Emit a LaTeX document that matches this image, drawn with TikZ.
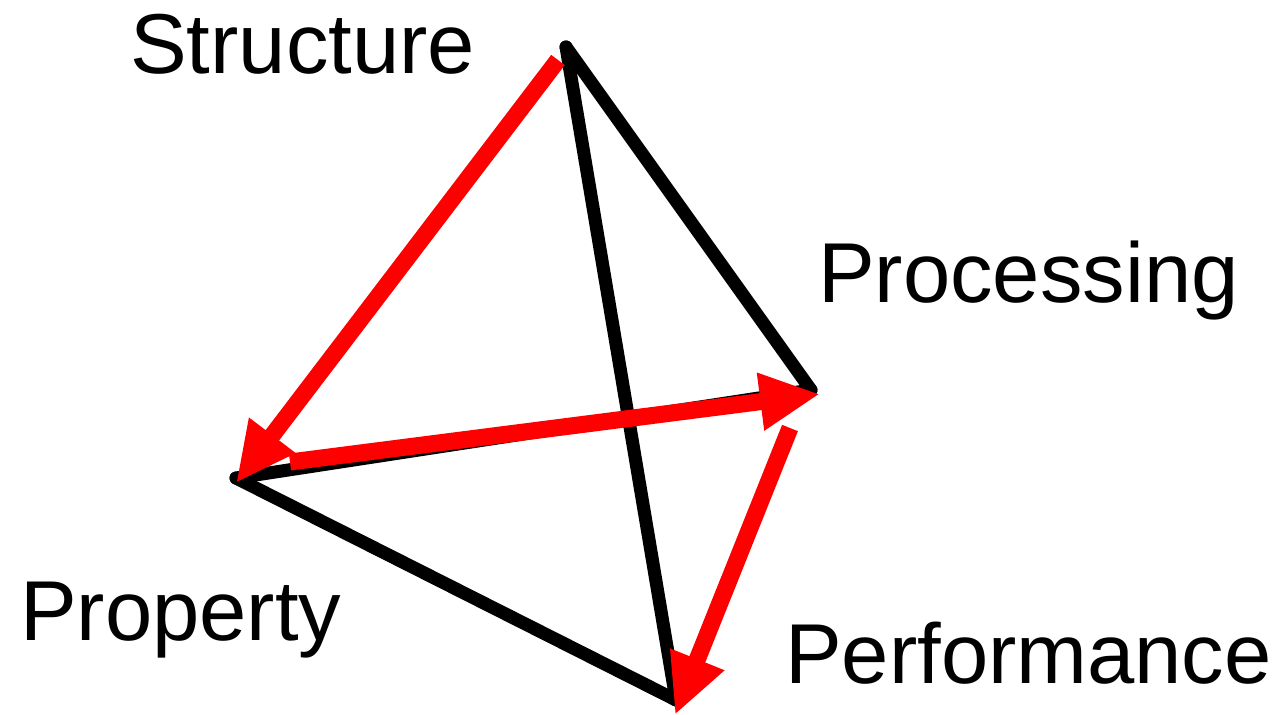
\documentclass[tikz,border=0pt]{standalone}
\usepackage{fontspec}
\setmainfont{Liberation Sans}
\usetikzlibrary{arrows.meta}
\begin{document}
\begin{tikzpicture}[x=1pt,y=-1pt,
  edge/.style={line width=13pt,black,line join=round,line cap=round},
  redarrow/.style={line width=17pt,red,-{Triangle[length=60pt,width=54pt]}},
  lbl/.style={anchor=base west,inner sep=0pt,font=\fontsize{85}{95}\selectfont}]
\useasboundingbox[fill=white] (0,0) rectangle (1283,715);
\coordinate (T) at (566,47);
\coordinate (R) at (811,390);
\coordinate (L) at (236,478);
\coordinate (B) at (676,700);
\draw[edge] (T) -- (R);
\draw[edge] (T) -- (B);
\draw[edge] (L) -- (B);
\draw[edge] (L) -- (R);
\coordinate (a1s) at (558,60);
\coordinate (a1e) at (236,483);
\coordinate (a2s) at (290,462);
\coordinate (a2e) at (820,394);
\coordinate (a3s) at (790,428);
\coordinate (a3e) at (675,715);
\draw[redarrow] (a1s) -- (a1e);
\draw[redarrow] (a2s) -- (a2e);
\draw[redarrow] (a3s) -- (a3e);
\node[lbl] (s) at (130,73) {Structure};
\node[lbl] (p) at (818,302) {Processing};
\node[lbl] (q) at (20,640) {Property};
\node[lbl] (f) at (785,683) {Performance};
\end{tikzpicture}
\end{document}
